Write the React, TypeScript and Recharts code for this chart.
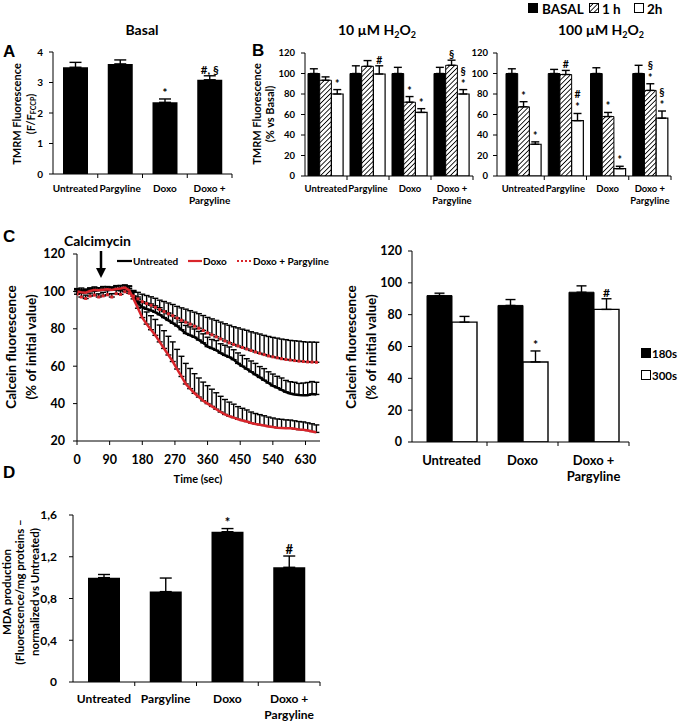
import React from 'react';
import { BarChart, Bar, XAxis, YAxis, ErrorBar, LabelList, LineChart, Line } from 'recharts';

const FONT = 'Lato, "Open Sans", sans-serif';
const RED = '#d9252b';

// A - basal TMRM (F/F FCCP)
const groups = ['Untreated', 'Pargyline', 'Doxo', 'Doxo + Pargyline'];
const basalTmrm = [3.5, 3.61, 2.35, 3.09];
const basalTmrmErr = [0.16, 0.13, 0.11, 0.13];
const basalTmrmSig = ['', '', '*', '#, §'];

// B - TMRM after 10 uM H2O2 (% vs basal)
const low0 = [100, 100, 100, 100];
const low0Err = [4.6, 7.5, 6, 6];
const low1 = [93.4, 107, 72, 108];
const low1Err = [3.3, 5.6, 5.5, 5];
const low1Sig = ['', '', '*', '§'];
const low2 = [80, 99.5, 62, 80];
const low2Err = [4.3, 8, 3.7, 4.3];
const low2Sig = ['*', '#', '*', '§\n*'];

// B - TMRM after 100 uM H2O2
const high0 = [100, 100, 100, 100];
const high0Err = [4.6, 4, 5.6, 8];
const high1 = [67.5, 99, 58, 83.5];
const high1Err = [5, 4, 4, 6.5];
const high1Sig = ['*', '#', '*', '§\n*'];
const high2 = [31, 54, 7.2, 56.4];
const high2Err = [2.3, 7, 2.3, 7];
const high2Sig = ['*', '#\n*', '*', '§\n*'];

// C - calcein time course (sec)
const times = [0, 12, 24, 36, 48, 60, 72, 84, 96, 108, 120, 132, 144, 156, 168, 180, 192, 204, 216, 228,
  240, 252, 264, 276, 288, 300, 312, 324, 336, 348, 360, 372, 384, 396, 408, 420, 432, 444, 456, 468,
  480, 492, 504, 516, 528, 540, 552, 564, 576, 588, 600, 612, 624, 636, 648, 660];
const untreated = [100, 100.3, 100, 100.5, 100.8, 100.6, 101, 100.7, 101, 101.2, 101, 101.5, 100.5, 97.5, 94, 91.5, 90.5, 89.8, 88.8, 87.5,
  86, 84.5, 83, 81.5, 79.5, 77.5, 76.5, 75.5, 74, 72.5, 70.5, 69.5, 68.5, 67, 65.8, 64.8, 63.5, 61.5, 60, 58.5,
  57, 55.5, 54, 52.5, 51, 49.5, 48.5, 47.3, 46.2, 45.4, 44.9, 44.6, 44.4, 44.5, 45.1, 44.9];
const untreatedErr = [1, 1.5, 1.2, 1.4, 1, 1.3, 1.5, 1.2, 1.4, 1.6, 1.3, 1.5, 2, 2.5, 3, 3, 3.2, 3.5, 3.5, 3.8,
  3.6, 4, 4, 4.2, 4, 4.3, 4.5, 4.4, 4.6, 4.8, 5, 4.8, 5.2, 5, 5.4, 5.5, 5.3, 5.6, 5.8, 5.5,
  5.8, 6, 5.8, 6.2, 6, 6.3, 6.1, 6.4, 6.2, 6.3, 6.5, 6.2, 6.6, 6.8, 6.7, 6.5];
const doxo = [100, 99.6, 99.3, 100.2, 100.8, 100.6, 100.9, 101.1, 100.8, 101.3, 101.6, 102, 100.5, 96, 91, 86, 82.5, 79.5, 76.5, 73,
  69.5, 66, 62.5, 58.5, 54.5, 50.5, 48, 45.5, 43.5, 41.5, 40, 38.5, 37, 35.5, 34.2, 33.2, 32.5, 31.6, 31, 30.4,
  29.6, 29.1, 28.7, 28.3, 27.8, 27.5, 27.1, 27, 26.8, 26.8, 26.5, 26.1, 26, 25.6, 25.1, 24.6];
const doxoErr = [1.5, 1.2, 1.8, 1.4, 1.6, 1.3, 1.7, 1.5, 1.4, 1.8, 1.6, 1.5, 2.5, 3.5, 4.5, 5.5, 6.5, 7.5, 8.5, 9,
  9.5, 10, 10.5, 10.5, 10.8, 11, 10.8, 10.5, 10.2, 10, 9.6, 9.2, 8.8, 8.4, 8, 7.6, 7.2, 6.8, 6.5, 6.2,
  5.9, 5.6, 5.4, 5.2, 5, 4.8, 4.7, 4.6, 4.5, 4.4, 4.3, 4.3, 4.2, 4.1, 4.1, 4];
const doxoParg = [98.5, 97, 96.2, 97.5, 98, 97, 97.6, 98.2, 97, 98.8, 98.4, 99.8, 99, 97.5, 96, 94.5, 93.5, 92.6, 91.5, 90.3,
  89.2, 88, 87, 85.7, 84.6, 83.5, 82.5, 81.4, 80.3, 79.1, 77.8, 76.8, 75.7, 74.6, 73.5, 72.5, 71.6, 70.8, 70, 69.2,
  68.4, 67.6, 66.9, 66.2, 65.5, 65, 64.5, 64, 63.6, 63.3, 63, 62.7, 62.5, 62.3, 62.2, 62.1];
const doxoPargErr = [1.5, 2, 1.8, 1.6, 2.1, 1.7, 1.9, 2.2, 1.8, 2, 1.9, 2.2, 2.5, 3, 3.5, 4, 4.3, 4.5, 4.8, 5,
  5.4, 5.8, 6, 6.3, 6.6, 7, 7.2, 7.5, 7.8, 8, 8.3, 8.5, 8.8, 9, 9.2, 9.4, 9.5, 9.7, 9.8, 10,
  10, 10.2, 10.3, 10.3, 10.4, 10.4, 10.5, 10.5, 10.6, 10.5, 10.6, 10.7, 10.6, 10.6, 10.7, 10.7];
const timeTicks = [0, 90, 180, 270, 360, 450, 540, 630];

// C - calcein at 180 s / 300 s
const calceinGroups = ['Untreated', 'Doxo', 'Doxo + Pargyline'];
const calcein180 = [92, 85.8, 94.1];
const calcein180Err = [1.5, 3.7, 4];
const calcein300 = [75.3, 50.3, 83.3];
const calcein300Err = [3.6, 6.9, 6.7];
const calcein300Sig = ['', '*', '#'];

// D - MDA production
const mda = [1.0, 0.866, 1.44, 1.099];
const mdaErr = [0.03, 0.13, 0.03, 0.108];
const mdaSig = ['', '', '*', '#'];

const basalData = groups.map((g, i) => ({ g, v: basalTmrm[i], e: basalTmrmErr[i], s: basalTmrmSig[i] }));
const lowData = groups.map((g, i) => ({
  g, b: low0[i], be: low0Err[i], h1: low1[i], h1e: low1Err[i], h1s: low1Sig[i], h2: low2[i], h2e: low2Err[i], h2s: low2Sig[i],
}));
const highData = groups.map((g, i) => ({
  g, b: high0[i], be: high0Err[i], h1: high1[i], h1e: high1Err[i], h1s: high1Sig[i], h2: high2[i], h2e: high2Err[i], h2s: high2Sig[i],
}));
const lineData = times.map((t, i) => ({
  t, u: untreated[i], ue: untreatedErr[i], d: doxo[i], de: doxoErr[i], dp: doxoParg[i], dpe: doxoPargErr[i],
}));
const calceinData = calceinGroups.map((g, i) => ({
  g, a: calcein180[i], ae: calcein180Err[i], b: calcein300[i], be: calcein300Err[i], bs: calcein300Sig[i],
}));
const mdaData = groups.map((g, i) => ({ g, v: mda[i], e: mdaErr[i], s: mdaSig[i] }));

const tickStyle = (fontSize: number) => ({ fill: '#000', fontSize, fontWeight: 700, fontFamily: FONT });

const catTick = (band: number, fontSize: number, offset: number, lineH: number) => (props: any) => {
  const { x, y, payload } = props;
  const v = String(payload.value);
  const parts = v.split(' + ');
  const lines = parts.length > 1 ? [parts[0] + ' +', parts[1]] : [v];
  return (
    <g>
      <line x1={x + band / 2} x2={x + band / 2} y1={y} y2={y + 4} stroke="#000" />
      {lines.map((l, i) => (
        <text key={i} x={x} y={y + offset + i * lineH} textAnchor="middle" dominantBaseline="hanging"
          fontSize={fontSize} fontWeight={700} fontFamily={FONT} fill="#000">{l}</text>
      ))}
    </g>
  );
};

// significance marks sit just above the error bar; stacked marks read top to bottom
const sigContent = (errs: number[], ppu: number, size = 11) => (props: any) => {
  const vb = props.viewBox || {};
  const x = props.x ?? vb.x;
  const y = props.y ?? vb.y;
  const w = props.width ?? vb.width;
  if (!props.value) return null;
  const idx = props.index ?? 0;
  const lines = String(props.value).split('\n');
  const base = y - errs[idx] * ppu - 2;
  return (
    <g>
      {lines.map((l, i) => (
        <text key={i} x={x + w / 2} y={base - (lines.length - 1 - i) * 13} textAnchor="middle"
          fontSize={size} fontWeight={700} fontFamily={FONT} fill="#000">{l}</text>
      ))}
    </g>
  );
};

const hatchDef = (id: string) => (
  <defs>
    <pattern id={id} patternUnits="userSpaceOnUse" width="3.4" height="3.4" patternTransform="rotate(45)">
      <rect width="3.4" height="3.4" fill="#fff" />
      <line x1="0" y1="0" x2="0" y2="3.4" stroke="#000" strokeWidth="1.7" />
    </pattern>
  </defs>
);

const errBar = (key: string, w = 5) => (
  <ErrorBar dataKey={(d: any) => [0, d[key]]} width={w} stroke="#000" strokeWidth={1.4} direction="y" />
);

const H2O2Chart = ({ data, id, yW, padLeft, band, errs }: any) => (
  <BarChart width={yW === 40 ? 210 : 208} height={173} data={data} margin={{ top: 10, right: yW === 40 ? 2 : 4, left: 0, bottom: 0 }}
    barGap={0} barCategoryGap={0}>
    {hatchDef(id)}
    <XAxis dataKey="g" interval={0} tickSize={0} tickMargin={0} height={40} stroke="#000" padding={{ left: padLeft, right: 0 }}
      tick={catTick(band, 9.5, 9, 12)} />
    <YAxis domain={[0, 120]} ticks={[0, 20, 40, 60, 80, 100, 120]} width={yW} tickSize={4} tickMargin={yW === 40 ? 6 : 5}
      stroke="#000" tick={tickStyle(9.5)} allowDataOverflow />
    <Bar dataKey="b" fill="#000" stroke="#000" barSize={11.7} isAnimationActive={false}>
      {errBar('be', 4)}
    </Bar>
    <Bar dataKey="h1" fill={`url(#${id})`} stroke="#000" strokeWidth={1} barSize={11.7} isAnimationActive={false}>
      {errBar('h1e', 4)}
      <LabelList dataKey="h1s" content={sigContent(errs[0], 123 / 120, 10.5)} />
    </Bar>
    <Bar dataKey="h2" fill="#fff" stroke="#000" strokeWidth={1.2} barSize={11.7} isAnimationActive={false}>
      {errBar('h2e', 4)}
      <LabelList dataKey="h2s" content={sigContent(errs[1], 123 / 120, 10.5)} />
    </Bar>
  </BarChart>
);

const T = (p: any) => <text fontFamily={FONT} fontWeight={700} fill="#000" {...p} />;

export default function App() {
  return (
    <div style={{ position: 'absolute', left: 0, top: 0, width: 680, height: 721, background: '#fff', overflow: 'hidden' }}>
      {/* A */}
      <div style={{ position: 'absolute', left: 0, top: 42 }}>
        <BarChart width={236} height={172} data={basalData} margin={{ top: 10, right: 4, left: 0, bottom: 0 }} barCategoryGap={0}>
          <XAxis dataKey="g" interval={0} tickSize={0} tickMargin={0} height={40} stroke="#000" tick={catTick(44.75, 10, 10, 12)} />
          <YAxis domain={[0, 4]} ticks={[0, 1, 2, 3, 4]} width={53} tickSize={4} tickMargin={6} stroke="#000" tick={tickStyle(10)} allowDataOverflow />
          <Bar dataKey="v" fill="#000" barSize={25} isAnimationActive={false}>
            {errBar('e', 6)}
            <LabelList dataKey="s" content={sigContent(basalTmrmErr, 122 / 4, 11.5)} />
          </Bar>
        </BarChart>
      </div>

      {/* B 10 uM */}
      <div style={{ position: 'absolute', left: 265, top: 43 }}>
        <H2O2Chart data={lowData} id="hatchLow" yW={40} padLeft={0} band={42} errs={[low1Err, low2Err]} />
      </div>
      {/* B 100 uM */}
      <div style={{ position: 'absolute', left: 467, top: 43 }}>
        <H2O2Chart data={highData} id="hatchHigh" yW={30} padLeft={5} band={42.25} errs={[high1Err, high2Err]} />
      </div>

      {/* C time course */}
      <div style={{ position: 'absolute', left: 0, top: 244 }}>
        <LineChart width={324} height={242} data={lineData} margin={{ top: 10, right: 4, left: 0, bottom: 0 }}>
          <XAxis dataKey="t" type="number" domain={[0, 670]} ticks={timeTicks} tickSize={4} tickMargin={10} height={45}
            stroke="#000" tick={tickStyle(12.5)} allowDataOverflow />
          <YAxis domain={[20, 120]} ticks={[20, 40, 60, 80, 100, 120]} width={77} tickSize={4} tickMargin={8}
            stroke="#000" tick={tickStyle(12.5)} allowDataOverflow />
          <Line dataKey="dp" stroke="none" isAnimationActive={false}
            dot={(p: any) => <rect key={p.index} x={p.cx - 1.5} y={p.cy - 1.5} width={3} height={3} fill={RED} />}>
            {errBar('dpe', 3)}
          </Line>
          <Line dataKey="u" stroke="#000" strokeWidth={2.5} dot={false} isAnimationActive={false}>
            {errBar('ue', 3)}
          </Line>
          <Line dataKey="d" stroke={RED} strokeWidth={2.5} dot={false} isAnimationActive={false}>
            {errBar('de', 3)}
          </Line>
        </LineChart>
      </div>

      {/* C bars */}
      <div style={{ position: 'absolute', left: 368, top: 241 }}>
        <BarChart width={263} height={246} data={calceinData} margin={{ top: 10, right: 2, left: 0, bottom: 0 }} barGap={0} barCategoryGap={0}>
          <XAxis dataKey="g" interval={0} tickSize={0} tickMargin={0} height={45} stroke="#000" padding={{ left: 4, right: 0 }}
            tick={catTick(71, 13, 13, 16)} />
          <YAxis domain={[0, 120]} ticks={[0, 20, 40, 60, 80, 100, 120]} width={44} tickSize={4} tickMargin={6}
            stroke="#000" tick={tickStyle(12.5)} allowDataOverflow />
          <Bar dataKey="a" fill="#000" stroke="#000" barSize={25} isAnimationActive={false}>
            {errBar('ae', 5)}
          </Bar>
          <Bar dataKey="b" fill="#fff" stroke="#000" strokeWidth={1.4} barSize={25} isAnimationActive={false}>
            {errBar('be', 5)}
            <LabelList dataKey="bs" content={sigContent(calcein300Err, 191 / 120, 12)} />
          </Bar>
        </BarChart>
      </div>

      {/* D */}
      <div style={{ position: 'absolute', left: 0, top: 505 }}>
        <BarChart width={324} height={219} data={mdaData} margin={{ top: 10, right: 4, left: 0, bottom: 0 }} barCategoryGap={0}>
          <XAxis dataKey="g" interval={0} tickSize={0} tickMargin={0} height={42} stroke="#000" tick={catTick(61.75, 12, 11, 16)} />
          <YAxis domain={[0, 1.6]} ticks={[0, 0.4, 0.8, 1.2, 1.6]} width={73} tickSize={4} tickMargin={12} stroke="#000"
            tick={tickStyle(12)} tickFormatter={(v: number) => String(v).replace('.', ',')} allowDataOverflow />
          <Bar dataKey="v" fill="#000" barSize={32} isAnimationActive={false}>
            {errBar('e', 6)}
            <LabelList dataKey="s" content={sigContent(mdaErr, 167 / 1.6, 13)} />
          </Bar>
        </BarChart>
      </div>

      {/* texts */}
      <svg width={680} height={721} style={{ position: 'absolute', left: 0, top: 0, pointerEvents: 'none' }}>
        {hatchDef('hatchLegend')}
        <g fontFamily="'Liberation Sans', Arial, sans-serif" fontWeight={700} fontSize={17}>
          <text x={3} y={57}>A</text>
          <text x={252} y={56}>B</text>
          <text x={3} y={242}>C</text>
          <text x={3} y={478}>D</text>
        </g>
        <T x={142} y={35} fontSize={14} textAnchor="middle">Basal</T>
        <T x={377} y={35} fontSize={14} textAnchor="middle">10 µM H<tspan fontSize={9} dy={3}>2</tspan><tspan dy={-3}>O</tspan><tspan fontSize={9} dy={3}>2</tspan></T>
        <T x={601} y={35} fontSize={14} textAnchor="middle">100 µM H<tspan fontSize={9} dy={3}>2</tspan><tspan dy={-3}>O</tspan><tspan fontSize={9} dy={3}>2</tspan></T>

        <rect x={528} y={3} width={10} height={10} fill="#000" />
        <T x={542} y={13.5} fontSize={13.5}>BASAL</T>
        <rect x={589.5} y={3.5} width={9} height={9} fill="url(#hatchLegend)" stroke="#000" />
        <T x={602} y={13.5} fontSize={13.5}>1 h</T>
        <rect x={634.5} y={3.5} width={9} height={9} fill="#fff" stroke="#000" />
        <T x={647} y={13.5} fontSize={13.5}>2h</T>

        <T transform="translate(18,114) rotate(-90)" textAnchor="middle" dominantBaseline="middle" fontSize={11}>TMRM Fluorescence</T>
        <T transform="translate(32,114) rotate(-90)" textAnchor="middle" dominantBaseline="middle" fontSize={11}>(F/F<tspan fontSize={7} dy={2}>FCCP</tspan><tspan dy={-2}>)</tspan></T>
        <T transform="translate(258,114) rotate(-90)" textAnchor="middle" dominantBaseline="middle" fontSize={11}>TMRM Fluorescence</T>
        <T transform="translate(271,114) rotate(-90)" textAnchor="middle" dominantBaseline="middle" fontSize={11}>(% vs Basal)</T>

        <T x={97.5} y={246} fontSize={14} textAnchor="middle">Calcimycin</T>
        <line x1={101} y1={251} x2={101} y2={270} stroke="#000" strokeWidth={2.5} />
        <polygon points="96,268 106,268 101,278" fill="#000" />

        <line x1={117} y1={261} x2={132} y2={261} stroke="#000" strokeWidth={2.2} />
        <T x={133} y={265} fontSize={10}>Untreated</T>
        <line x1={188} y1={261} x2={202} y2={261} stroke={RED} strokeWidth={2.2} />
        <T x={203} y={265} fontSize={10}>Doxo</T>
        <line x1={237} y1={261} x2={252} y2={261} stroke={RED} strokeWidth={2.2} strokeDasharray="2 2" />
        <T x={253} y={265} fontSize={10}>Doxo + Pargyline</T>

        <T transform="translate(13,347) rotate(-90)" textAnchor="middle" dominantBaseline="middle" fontSize={13.5}>Calcein fluorescence</T>
        <T transform="translate(33,347) rotate(-90)" textAnchor="middle" dominantBaseline="middle" fontSize={13.5}>(% of initial value)</T>
        <T transform="translate(353,347) rotate(-90)" textAnchor="middle" dominantBaseline="middle" fontSize={13.5}>Calcein fluorescence</T>
        <T transform="translate(373,347) rotate(-90)" textAnchor="middle" dominantBaseline="middle" fontSize={13.5}>(% of initial value)</T>
        <T x={198} y={483} fontSize={11} textAnchor="middle">Time (sec)</T>

        <rect x={641} y={348} width={10} height={10} fill="#000" />
        <T x={652} y={357.5} fontSize={11.5}>180s</T>
        <rect x={641.5} y={370.5} width={9} height={9} fill="#fff" stroke="#000" />
        <T x={652} y={379.5} fontSize={11.5}>300s</T>

        <T transform="translate(8,592) rotate(-90)" textAnchor="middle" dominantBaseline="middle" fontSize={11.5}>MDA production</T>
        <T transform="translate(21,592) rotate(-90)" textAnchor="middle" dominantBaseline="middle" fontSize={11.5}>(Fluorescence/mg proteins –</T>
        <T transform="translate(36,592) rotate(-90)" textAnchor="middle" dominantBaseline="middle" fontSize={11.5}>normalized vs Untreated)</T>
      </svg>
    </div>
  );
}
